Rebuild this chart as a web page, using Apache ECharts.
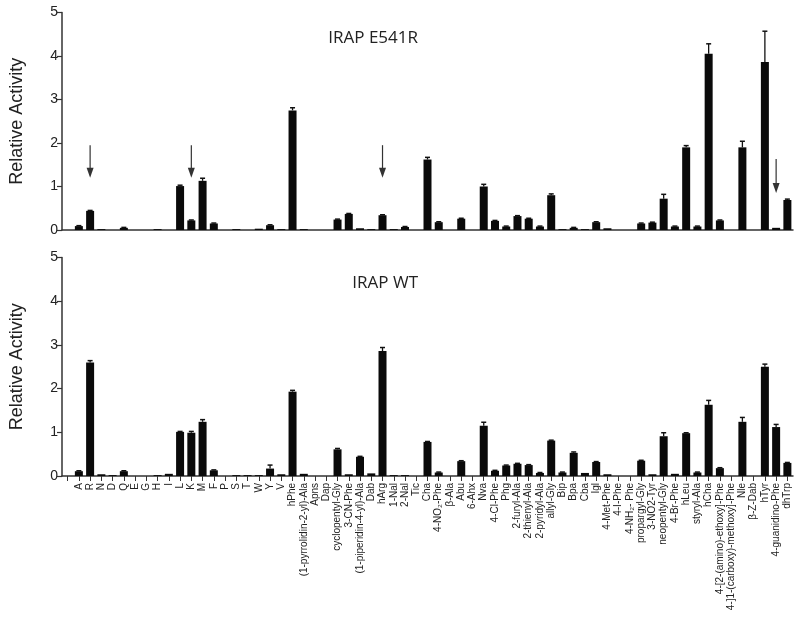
<!DOCTYPE html>
<html>
<head>
<meta charset="utf-8">
<script src="https://cdn.jsdelivr.net/npm/echarts@6/dist/echarts.min.js"></script>
<style>
html,body{margin:0;padding:0;background:#fff;}
#chart{width:800px;height:620px;}
</style>
</head>
<body>
<div id="chart"></div>
<script>
var categories = ["", "A", "R", "N", "D", "Q", "E", "G", "H", "I", "L", "K", "M", "F", "P", "S", "T", "W", "Y", "V",
  "hPhe", "(1-pyrrolidin-2-yl)-Ala", "Apns", "Dap", "cyclopentyl-Gly", "3-CN-Phe", "(1-piperidin-4-yl)-Ala", "Dab", "hArg",
  "1-Nal", "2-Nal", "Tic", "Cha", "4-NO\u2082-Phe", "\u03b2-Ala", "Abu", "6-Ahx", "Nva", "4-Cl-Phe", "Phg", "2-furyl-Ala",
  "2-thienyl-Ala", "2-pyridyl-Ala", "allyl-Gly", "Bip", "Bpa", "Cba", "Igl", "4-Met-Phe", "4-I-Phe", "4-NH\u2082- Phe",
  "propargyl-Gly", "3-NO2-Tyr", "neopentyl-Gly", "4-Br-Phe", "hLeu", "styryl-Ala", "hCha", "4-[2-(amino)-ethoxy]-Phe",
  "4-]1-(carboxy)-methoxy]-Phe", "Nle", "\u03b2-Z-Dab", "hTyr", "4-guanidino-Phe", "dhTrp"];

var mutantValues = [null, 0.09, 0.44, 0.02, 0, 0.05, 0, 0, 0.02, 0, 1.01, 0.22, 1.13, 0.15, 0, 0.02, 0, 0.03, 0.11, 0.02,
  2.75, 0.02, 0, 0, 0.24, 0.37, 0.04, 0.02, 0.34,
  0.02, 0.07, 0, 1.62, 0.18, 0, 0.26, 0, 1.00, 0.21, 0.08, 0.32,
  0.26, 0.08, 0.80, 0.02, 0.05, 0.02, 0.18, 0.04, 0, 0,
  0.15, 0.17, 0.72, 0.08, 1.90, 0.08, 4.05, 0.22,
  0, 1.90, 0, 3.86, 0.05, 0.69];
var mutantErrors = [null, 0.01, 0.01, 0, 0, 0.01, 0, 0, 0, 0, 0.02, 0.01, 0.06, 0.01, 0, 0, 0, 0, 0.01, 0,
  0.06, 0, 0, 0, 0.01, 0.01, 0, 0, 0.01,
  0, 0.01, 0, 0.05, 0.01, 0, 0.01, 0, 0.05, 0.01, 0.01, 0.01,
  0.01, 0.01, 0.03, 0, 0.01, 0, 0.01, 0, 0, 0,
  0.01, 0.01, 0.10, 0.01, 0.04, 0.01, 0.23, 0.01,
  0, 0.14, 0, 0.71, 0, 0.02];

var wtValues = [null, 0.11, 2.60, 0.04, 0.02, 0.11, 0, 0, 0.02, 0.05, 1.01, 0.99, 1.24, 0.13, 0, 0.02, 0.02, 0.02, 0.17, 0.04,
  1.93, 0.05, 0, 0, 0.61, 0.04, 0.44, 0.06, 2.86,
  0.02, 0.02, 0, 0.78, 0.08, 0, 0.34, 0, 1.15, 0.12, 0.24, 0.28,
  0.25, 0.07, 0.81, 0.08, 0.53, 0.07, 0.32, 0.04, 0, 0,
  0.35, 0.04, 0.91, 0.05, 0.98, 0.08, 1.63, 0.18,
  0, 1.24, 0, 2.50, 1.12, 0.30];
var wtErrors = [null, 0.01, 0.04, 0, 0, 0.01, 0, 0, 0, 0, 0.01, 0.03, 0.05, 0.01, 0, 0, 0, 0, 0.08, 0,
  0.03, 0, 0, 0, 0.02, 0, 0.01, 0, 0.08,
  0, 0, 0, 0.01, 0.01, 0, 0.01, 0, 0.08, 0.01, 0.01, 0.01,
  0.01, 0.01, 0.01, 0.01, 0.02, 0, 0.01, 0, 0, 0,
  0.01, 0, 0.08, 0, 0.01, 0.01, 0.10, 0.01,
  0, 0.10, 0, 0.06, 0.06, 0.01];

var arrowCats = ["R", "K", "hArg", "4-guanidino-Phe"];
var arrowTops = [1.95, 1.95, 1.95, 1.63];
var arrowBottoms = [1.20, 1.20, 1.20, 0.85];

var yTicks = [0, 1, 2, 3, 4, 5];
var panelTitles = ["IRAP E541R", "IRAP WT"];
var yTitle = "Relative Activity";

function errData(vals, errs) {
  var out = [];
  for (var i = 0; i < vals.length; i++) {
    if (vals[i] != null && errs[i] > 0) out.push([i, vals[i], vals[i] + errs[i]]);
  }
  return out;
}
var arrowData = arrowCats.map(function (c, i) {
  return [categories.indexOf(c), arrowTops[i], arrowBottoms[i]];
});

function renderErr(params, api) {
  var x = api.value(0);
  var p0 = api.coord([x, api.value(1)]);
  var p1 = api.coord([x, api.value(2)]);
  var hw = 2.5;
  return {
    type: 'group',
    children: [
      { type: 'line', shape: { x1: p0[0], y1: p0[1], x2: p1[0], y2: p1[1] }, style: { stroke: '#111', lineWidth: 1.3 } },
      { type: 'line', shape: { x1: p1[0] - hw, y1: p1[1], x2: p1[0] + hw, y2: p1[1] }, style: { stroke: '#111', lineWidth: 1.5 } }
    ]
  };
}
function renderArrow(params, api) {
  var x = api.value(0);
  var pt = api.coord([x, api.value(1)]);
  var pb = api.coord([x, api.value(2)]);
  var hw = 3.5, hh = 10;
  return {
    type: 'group',
    children: [
      { type: 'line', shape: { x1: pt[0], y1: pt[1], x2: pb[0], y2: pb[1] - hh + 2 }, style: { stroke: '#333', lineWidth: 1.2 } },
      { type: 'polygon', shape: { points: [[pb[0] - hw, pb[1] - hh], [pb[0] + hw, pb[1] - hh], [pb[0], pb[1]]] }, style: { fill: '#333' } }
    ]
  };
}

var yAxisCommon = {
  type: 'value', min: 0, max: 5, interval: 1,
  name: yTitle, nameLocation: 'middle', nameGap: 36, nameRotate: 90,
  nameTextStyle: { fontFamily: 'Liberation Sans, Arial', fontSize: 18, color: '#222' },
  axisLine: { show: true, lineStyle: { color: '#333', width: 1.5 } },
  axisTick: { show: true, length: 5, lineStyle: { color: '#333', width: 1.2 } },
  axisLabel: { fontFamily: 'Liberation Sans, Arial', fontSize: 14, color: '#222', margin: 4,
    formatter: function (v) { return yTicks.indexOf(v) >= 0 ? String(v) : ''; } },
  splitLine: { show: false }
};

var chart = echarts.init(document.getElementById('chart'), null, { renderer: 'canvas' });
chart.setOption({
  animation: false,
  backgroundColor: '#fff',
  grid: [
    { left: 62, top: 12.5, width: 731, height: 217.5 },
    { left: 62, top: 257.5, width: 731, height: 218.5 }
  ],
  graphic: [
    { type: 'text', right: 382, top: 30, style: { text: panelTitles[0], font: '17px "Open Sans"', fill: '#222', textAlign: 'right' } },
    { type: 'text', right: 382, top: 275, style: { text: panelTitles[1], font: '17px "Open Sans"', fill: '#222', textAlign: 'right' } }
  ],
  xAxis: [
    { type: 'category', gridIndex: 0, data: categories,
      axisLine: { lineStyle: { color: '#333', width: 1.5 } }, axisTick: { show: false }, axisLabel: { show: false } },
    { type: 'category', gridIndex: 1, data: categories,
      axisLine: { lineStyle: { color: '#333', width: 1.5 } },
      axisTick: { show: true, alignWithLabel: true, interval: 0, length: 5, lineStyle: { color: '#333', width: 1 } },
      axisLabel: { interval: 0, rotate: 90, fontFamily: 'Liberation Sans, Arial', fontSize: 10, color: '#222', margin: 7 } }
  ],
  yAxis: [
    Object.assign({ gridIndex: 0 }, yAxisCommon),
    Object.assign({ gridIndex: 1 }, yAxisCommon)
  ],
  series: [
    { type: 'bar', xAxisIndex: 0, yAxisIndex: 0, data: mutantValues, barWidth: 8, itemStyle: { color: '#0a0a0a' } },
    { type: 'custom', xAxisIndex: 0, yAxisIndex: 0, data: errData(mutantValues, mutantErrors), renderItem: renderErr, z: 3 },
    { type: 'custom', xAxisIndex: 0, yAxisIndex: 0, data: arrowData, renderItem: renderArrow, z: 4 },
    { type: 'bar', xAxisIndex: 1, yAxisIndex: 1, data: wtValues, barWidth: 8, itemStyle: { color: '#0a0a0a' } },
    { type: 'custom', xAxisIndex: 1, yAxisIndex: 1, data: errData(wtValues, wtErrors), renderItem: renderErr, z: 3 }
  ]
});
</script>
</body>
</html>
